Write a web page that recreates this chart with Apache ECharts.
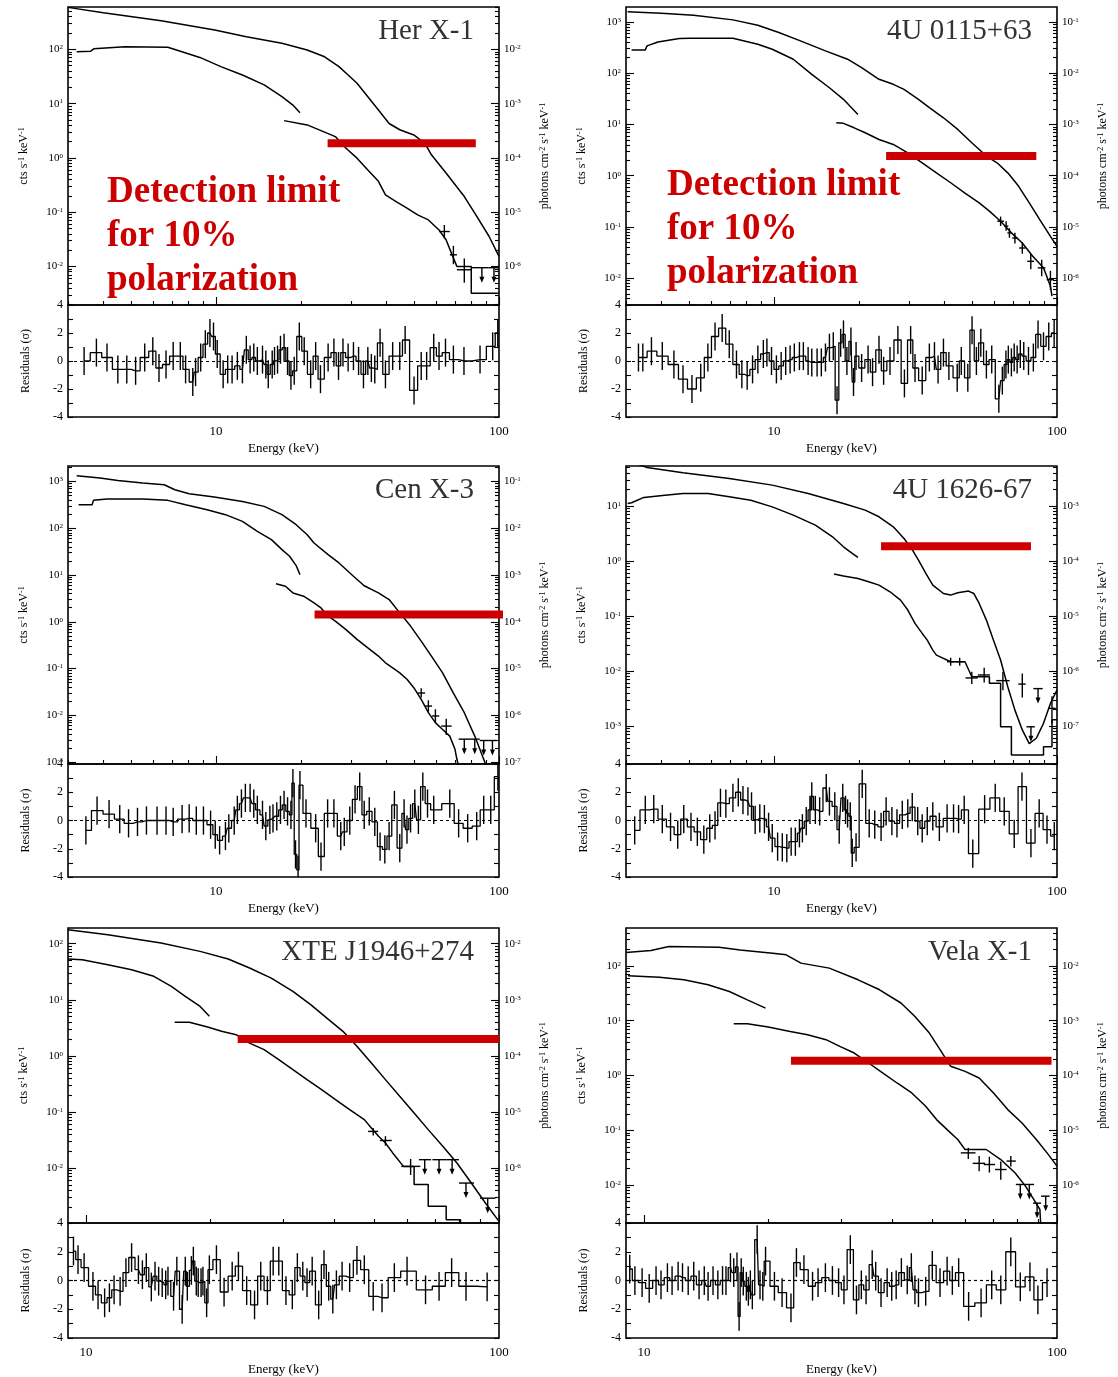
<!DOCTYPE html>
<html>
<head>
<meta charset="utf-8">
<script src="https://cdn.jsdelivr.net/npm/echarts@6/dist/echarts.min.js"></script>
<style>html,body{margin:0;background:#fff}#chart{width:1118px;height:1377px}</style>
</head>
<body>
<div id="chart"></div>
<script>
// ---- Her X-1 ----
var herModel = [[3.0,593],[4.0,473],[6.4,337],[9.9,227],[12.8,171],[17.1,129],[21.0,97],[24.2,73],[27.2,48],[29.3,33.7],[31.5,23.7],[34.4,13.4],[37.5,7.6],[40.9,4.3],[44.6,3.3],[50.0,2.65],[54.7,1.86],[57.7,1.14],[65.1,0.52],[75.4,0.194],[82.1,0.096],[92.2,0.036],[100,0.0153]];
var herLow = [[3.22,90],[3.6,92],[3.7,102],[4.77,112],[6.76,109],[8.77,71],[10.4,48],[12.4,33.7],[14.8,22.1],[17.1,13.4],[18.7,9.4],[19.8,6.8]];
var herHigh = [[17.4,4.86],[21.0,4.05],[23.5,3.18],[26.4,2.47],[28.8,1.51],[31.5,0.99],[34.4,0.60],[37.5,0.37],[39.7,0.208],[43.3,0.157],[47.3,0.119],[51.6,0.089],[56.3,0.072],[61.4,0.047],[65.0,0.031],[67.9,0.0176],[71,0.01],[79.8,0.01],[79.8,0.0032],[100,0.0032]];
var herErr = [[64.1,0.044,61.4,67.0,0.033,0.058],[69.0,0.0164,67.0,71.0,0.011,0.024],[75.4,0.0087,71.0,80.0,0.005,0.014]];
var herUL = [[87,0.0095,80,92],[96,0.0095,92,100]];
var herLimit = [[24.8,1.86],[82.8,1.86]];
var herRes = [[3.42,0],[3.78,0.6],[4.12,0.25],[4.50,-0.6],[4.84,-0.6],[5.20,-0.7],[5.60,0.25],[5.98,0.7],[6.29,-0.5],[6.66,-0.25],[7.06,0.35],[7.48,0.35],[7.81,-0.6],[8.28,-1.5],[8.47,-0.8],[8.83,0.25],[9.17,1.2],[9.52,2.0],[9.80,1.75],[10.1,0.5],[10.6,-0.95],[11.0,-0.6],[11.4,-0.6],[11.9,-0.35],[12.4,-0.6],[12.8,0.8],[13.2,0.1],[13.6,0.25],[14.0,0],[14.6,0.1],[15.0,-0.25],[15.3,-0.95],[15.8,-0.25],[16.1,0],[16.5,0.1],[16.9,0.8],[17.4,0.95],[17.9,0],[18.4,-1.05],[18.9,-0.7],[19.7,1.75],[20.5,0.7],[21.6,-0.95],[22.5,0.35],[23.4,-1.3],[24.9,0.25],[26.1,0.6],[27.1,-0.35],[28.1,0.6],[29.3,0.25],[30.6,0.35],[31.9,0],[33.2,-0.95],[34.4,0],[35.4,-0.5],[36.4,-0.6],[38.0,1.3],[39.7,-0.95],[42.1,0.35],[44.6,0.35],[46.6,1.5],[50.1,-2.1],[53.1,-0.35],[55.5,-0.35],[58.8,0.95],[61.4,0.35],[64.7,0.6],[69.0,0.1],[75.2,0],[85.7,0.1],[95,1.05],[99,2.0]];
var herY = [-2.71, 2.78];

// ---- 4U 0115+63 ----
var u0115Model = [[3.04,1567],[4.0,1475],[5.2,1349],[7.16,1094],[8.77,861],[10.4,619],[12.4,426],[15.2,272],[18.2,187],[20.4,128],[23.5,76],[26.4,60.6],[28.8,48.4],[32.4,30.9],[35.4,21.2],[39.7,13.5],[44.6,8.0],[50.0,4.4],[56.3,2.42],[61.4,1.79],[67.0,1.14],[73.1,0.63],[79.8,0.296],[86.9,0.14],[94.8,0.066],[100,0.042]];
var u0115Low = [[3.14,284],[3.51,284],[3.56,340],[3.89,406],[4.63,472],[5.06,480],[7.16,480],[8.77,366],[9.86,293],[11.7,187],[13.6,95],[15.7,52],[17.6,30.9],[19.8,15.7]];
var u0115High = [[16.6,10.8],[17.6,10.5],[19.2,8.6],[21.0,6.9],[23.5,5.1],[26.4,4.08],[29.7,2.8],[33.4,1.79],[37.5,1.14],[42.1,0.73],[47.3,0.46],[53.1,0.296],[57.7,0.204],[63.2,0.130],[69.0,0.077],[75.4,0.049],[82.1,0.027],[89.6,0.016],[94.8,0.0070],[96,0.0045]];
var u0115Err = [[63.2,0.13,61.5,65,0.105,0.16],[66.1,0.104,65,67.3,0.085,0.13],[67.9,0.077,66.8,69,0.062,0.095],[71.0,0.061,69.5,72.5,0.048,0.077],[75.4,0.039,73.5,77.5,0.030,0.051],[80.8,0.0215,78.5,83,0.015,0.03],[88.3,0.016,85.5,91,0.011,0.023],[94.8,0.0094,92,97.5,0.006,0.014]];
var u0115UL = [];
var u0115Limit = [[24.9,2.42],[84.5,2.42]];
var u0115Res = [[3.32,0.25],[3.44,0.25],[3.69,0.7],[4.03,0.35],[4.43,-0.25],[4.77,-1.3],[5.13,-2.0],[5.51,-1.2],[5.84,0.25],[6.19,1.75],[6.56,2.35],[6.95,1.2],[7.37,-0.25],[7.70,-0.95],[8.04,-1.05],[8.40,-0.6],[8.77,0.1],[9.17,0.5],[9.44,0.6],[9.80,0],[10.2,-0.6],[10.6,-0.35],[11.0,0],[11.4,0.1],[11.8,0.25],[12.3,0.35],[12.7,0.35],[13.2,0],[13.6,-0.1],[14.2,-0.1],[14.7,-0.1],[15.2,0.25],[15.7,0.95],[16.2,1.05],[16.7,-2.8],[17.2,1.3],[17.6,1.9],[18.1,0],[18.7,1.4],[19.1,-1.5],[19.5,0.35],[20.4,-0.5],[21.5,0.1],[22.3,-0.8],[23.5,0.8],[24.4,-0.7],[25.7,0],[27.4,1.5],[28.9,-1.6],[30.4,1.5],[31.5,-0.5],[33.4,-1.4],[35.4,0.25],[36.9,0.35],[38.0,-0.6],[39.7,0.6],[41.5,-0.35],[44.4,-1.2],[45.9,0],[48.4,-1.2],[50.1,2.2],[51.9,0],[53.8,1.3],[56.3,-0.25],[58.8,0.1],[62.3,-2.7],[64.1,-1.4],[66.0,-0.25],[67.3,0.1],[69.0,-0.1],[70.6,0.25],[72.3,0.1],[74.2,0.5],[76.3,0.35],[79.3,0],[82.5,0.25],[85.7,1.9],[89.6,1.05],[93.5,1.75],[97.7,2.0]];
var u0115Y = [-2.52, 3.29];

// ---- Cen X-3 ----
var cenModel = [[3.22,1321],[3.89,1178],[4.50,1050],[5.51,921],[6.56,849],[7.16,664],[8.04,546],[9.86,463],[12.4,374],[14.8,293],[17.1,195],[19.2,119],[21.0,72.7],[22.2,48.3],[24.9,27.2],[27.2,18.1],[30.6,9.4],[33.4,5.9],[37.5,4.14],[40.9,2.99],[44.6,1.55],[48.7,0.81],[53.1,0.386],[57.7,0.185],[63.2,0.081],[69.0,0.030],[75.4,0.0114],[82.1,0.0036],[88.3,0.00115],[92,0.0006]];
var cenLow = [[3.27,318],[3.65,318],[3.69,394],[4.12,420],[5.51,420],[6.76,394],[7.81,318],[9.3,248],[10.8,195],[12.4,140],[14.0,86],[15.7,57],[17.1,34.8],[18.2,25.1],[19.2,15.9],[19.8,10.2]];
var cenHigh = [[16.3,6.5],[17.6,5.75],[18.7,4.14],[20.4,3.52],[22.2,2.53],[23.5,1.98],[24.9,1.32],[26.4,1.03],[28.8,0.68],[31.5,0.42],[34.4,0.278],[37.5,0.185],[39.7,0.133],[42.1,0.104],[44.6,0.081],[47.3,0.059],[50.0,0.039],[53.1,0.022],[56.3,0.0114],[59.6,0.0070],[63.2,0.0050],[67.0,0.0036],[69.9,0.00188],[71.0,0.00115],[72,0.0008]];
var cenErr = [[53.1,0.030,51.5,54.8,0.024,0.038],[56.3,0.0158,54.8,58,0.012,0.021],[59.6,0.0097,58,61.5,0.0070,0.0135],[65.1,0.0059,62.5,68,0.0038,0.0085]];
var cenUL = [[75.4,0.0031,72,79],[82.1,0.0031,79,85.5],[88.3,0.0029,85.5,91.5],[94.8,0.0029,91.5,98]];
var cenLimit = [[22.3,1.43],[106,1.43]];
var cenRes = [[3.47,-0.7],[3.80,0.7],[4.19,0.45],[4.57,0.1],[4.91,-0.2],[5.28,-0.1],[5.68,0],[6.19,0],[6.66,0],[7.06,-0.1],[7.59,0.1],[8.04,0.15],[8.52,0],[9.03,0],[9.57,-0.3],[9.94,-1.0],[10.3,-1.4],[10.8,-1.1],[11.1,-0.55],[11.6,0],[11.9,0.75],[12.3,1.2],[12.7,1.6],[13.2,1.6],[13.6,1.2],[14.0,0.75],[14.6,0.4],[15.0,-0.4],[15.5,0.05],[15.9,0.15],[16.4,0.3],[16.9,0.75],[17.4,1.1],[17.9,0.65],[18.4,0.4],[18.7,2.65],[19.1,-2.4],[19.5,-3.5],[19.8,2.5],[20.8,0.5],[22.5,-0.55],[23.5,-2.55],[24.8,0.5],[26.1,0.5],[27.6,-1.1],[28.4,-0.8],[29.7,0],[31.0,1.5],[32.2,2.4],[33.4,0.4],[34.8,0.65],[36.4,-0.1],[38.0,-1.85],[39.5,-2.05],[40.9,-1.1],[42.7,1.1],[44.6,-1.95],[46.2,0.5],[47.3,-0.65],[48.7,0.15],[50.4,1.2],[51.9,0.05],[53.8,2.4],[55.9,1.2],[58.8,0.75],[67.0,1.2],[72.0,-0.2],[77.5,-0.55],[83.4,-0.4],[88.3,0.75],[93.5,0.75],[99.1,3.1]];
var cenY = [-3.04, 3.33];

// ---- 4U 1626-67 ----
var u1626Model = [[3.0,70],[3.56,50.5],[4.77,40.4],[6.95,31.8],[9.86,24.1],[13.2,17.0],[17.6,11.2],[21.0,8.45],[23.5,6.4],[26.4,4.21],[28.8,2.58],[30.6,1.70],[32.4,1.04],[34.4,0.597],[36.4,0.366],[39.7,0.258],[42.1,0.241],[44.6,0.266],[48.7,0.285],[50.8,0.258],[53.1,0.170],[56.3,0.0846],[59.6,0.0366],[63.2,0.0159],[67.0,0.0052],[71.0,0.00195],[75.4,0.00085],[79.8,0.00048],[84.5,0.00060],[89.6,0.00112],[94.8,0.00258],[100,0.00452]];
var u1626Low = [[3.04,11.2],[3.14,11.5],[3.47,14.4],[4.12,15.8],[4.77,17.0],[5.85,17.0],[6.95,14.8],[8.28,12.8],[9.86,9.7],[11.7,6.85],[14.0,4.52],[16.1,2.77],[17.6,1.82],[18.9,1.38],[19.8,1.17]];
var u1626High = [[16.3,0.581],[17.6,0.534],[19.8,0.484],[21.6,0.421],[23.5,0.366],[25.7,0.277],[28.0,0.195],[29.7,0.129],[31.5,0.0736],[33.4,0.0484],[34.8,0.0366],[36.4,0.0241],[37.5,0.0195],[42.1,0.0148],[47.3,0.0148],[50.0,0.0079],[57.7,0.0079],[57.7,0.0060],[63.2,0.0060],[63.2,0.00097],[69.0,0.00097],[69.0,0.000297],[89.6,0.000297],[89.6,0.00042],[96,0.00042],[96,0.0013],[100,0.0013]];
var u1626Err = [[42.1,0.0148,40.9,43.4,0.0125,0.0175],[45.3,0.0148,43.8,46.8,0.0125,0.0175],[50.0,0.0075,47.5,52.5,0.0058,0.0097],[55.3,0.0085,52.5,58,0.0062,0.0115],[64.4,0.0067,61,68,0.0045,0.0097],[75.4,0.0058,73,77.5,0.0033,0.009],[96,0.0021,93,99,0.0011,0.0035]];
var u1626UL = [[85.7,0.0048,82.5,89],[80.9,0.00097,78,83.5]];
var u1626Limit = [[23.9,1.87],[80.9,1.87]];
var u1626Res = [[3.22,-0.7],[3.51,0.75],[3.76,0.8],[4.03,0.1],[4.31,-0.45],[4.57,-1.0],[4.80,0.1],[5.09,-0.45],[5.36,-0.8],[5.65,-1.35],[5.93,-0.55],[6.19,-0.35],[6.47,1.25],[6.76,1.2],[7.16,1.6],[7.48,2.0],[7.77,1.45],[8.09,1.35],[8.33,1.0],[8.58,0.05],[8.91,0.15],[9.25,0.1],[9.57,-0.45],[9.86,-1.25],[10.3,-1.85],[10.7,-1.9],[11.1,-1.95],[11.5,-1.5],[11.9,-1.5],[12.3,-0.9],[12.6,-0.55],[13.0,-0.05],[13.4,0.75],[13.6,1.7],[14.0,0.75],[14.5,0.65],[15.3,2.3],[15.7,1.35],[16.4,1.0],[17.0,-0.65],[17.5,1.6],[17.9,0.75],[18.2,0.5],[18.6,0.3],[18.9,-2.3],[19.5,-1.9],[20.5,2.6],[21.7,-0.2],[22.7,-0.3],[23.9,-0.45],[24.9,0.65],[26.1,-0.05],[27.2,-0.2],[28.4,0.4],[29.7,0.5],[30.8,0.95],[32.2,-0.05],[33.4,-0.55],[34.8,-0.05],[36.4,0.3],[38.4,-0.45],[40.9,0.15],[43.1,0.15],[44.9,0.1],[47.0,0.75],[50.4,-2.35],[55.5,0.8],[60.5,1.6],[65.1,0.65],[70.6,-0.95],[75.2,2.4],[80.9,-1.6],[86.5,0.5],[92.2,-0.65],[97.8,-1.1]];
var u1626Y = [-3.69, 1.73];

// ---- XTE J1946+274 ----
var xteModel = [[9.05,178],[11.3,144],[15.2,103],[18.9,73],[22.1,53.3],[24.9,36.8],[28.1,24.4],[31.7,14.1],[35.0,8.2],[38.7,4.42],[41.9,2.74],[45.3,1.48],[49.1,0.746],[53.1,0.377],[57.5,0.190],[62.3,0.096],[67.4,0.0484],[73.1,0.0244],[79.1,0.0123],[85.7,0.0054],[92.7,0.00238],[100,0.00112]];
var xteLow = [[9.05,53.3],[9.8,51.9],[11.3,42.3],[12.9,34.4],[14.6,26.2],[16.1,17.4],[17.4,11.5],[18.9,7.6],[19.9,5.07]];
var xteHigh = [[16.4,3.96],[17.8,3.96],[19.7,3.27],[21.3,2.74],[23.1,2.39],[24.9,1.69],[27.0,1.29],[29.3,0.855],[31.7,0.567],[34.3,0.377],[37.2,0.250],[40.2,0.166],[43.5,0.110],[47.2,0.073],[49.1,0.0518],[51.1,0.0368],[53.1,0.0280],[55.3,0.0186],[58.7,0.0107],[62.3,0.0107],[62.3,0.0051],[67.4,0.0051],[67.4,0.00208],[74.5,0.00208],[74.5,0.0012],[80.7,0.0012],[80.7,0.0009]];
var xteErr = [[49.6,0.045,48.2,51,0.038,0.052],[53.1,0.031,51.5,55,0.025,0.037],[61.1,0.0107,58,64.5,0.0075,0.0145]];
var xteUL = [[66.1,0.0141,64,68.5],[71.6,0.0141,69,74.5],[77.0,0.0141,74.5,80],[83.2,0.0054,80,87],[93.9,0.0029,90,98]];
var xteLimit = [[23.3,2.0],[100,2.0]];
var xteRes = [[9.33,2.05],[9.57,1.45],[9.90,0.9],[10.4,-0.4],[10.7,-1.0],[11.1,-1.55],[11.4,-1.2],[11.7,-0.65],[12.1,-0.75],[12.5,0.55],[12.9,1.6],[13.4,0.75],[13.7,0.4],[14.0,0.9],[14.4,-0.45],[14.7,0.3],[15.0,-0.05],[15.3,-0.15],[15.6,-0.3],[15.8,-0.05],[16.3,-1.1],[16.6,0.65],[17.1,-2.0],[17.4,0.65],[17.6,-0.4],[18.0,0.7],[18.2,1.35],[18.5,-0.05],[18.7,-0.15],[19.0,-0.15],[19.2,-0.05],[19.6,-1.55],[19.9,0.75],[20.7,1.45],[21.6,-0.8],[22.6,0.3],[23.4,1.0],[24.5,-0.7],[25.6,-1.7],[26.5,0.3],[27.5,-0.7],[28.4,1.35],[29.3,1.35],[30.5,-0.7],[31.6,-1.0],[32.5,0.9],[33.5,0.3],[34.3,-0.15],[35.3,0.65],[36.6,-1.7],[37.7,1.1],[38.7,-0.4],[39.6,-1.3],[40.4,-0.3],[41.7,0.3],[43.5,0.2],[45.3,1.4],[47.2,0.75],[49.6,-1.1],[52.1,-1.2],[55.8,0.2],[59.9,0.65],[66.4,-0.65],[71.6,-0.4],[76.8,0.55],[83.2,-0.4],[93.6,-0.45]];
var xteY = [-2.98, 2.28];

// ---- Vela X-1 ----
var velaModel = [[9.05,175],[10.4,190],[11.5,225],[15.2,219],[17.1,195],[20.5,170],[22.1,159],[24.0,112],[28.1,90.8],[33.0,55.6],[37.2,36.6],[41.9,21.0],[45.3,11.9],[49.1,5.95],[52.1,2.96],[55.3,1.47],[59.9,1.19],[64.8,0.90],[70.2,0.48],[76.0,0.239],[82.3,0.136],[89.1,0.068],[94.6,0.0388],[100,0.0222]];
var velaLow = [[9.15,65.8],[10.9,62.2],[12.5,55.6],[14.3,45.1],[16.1,34.1],[17.8,24.0],[19.7,16.9]];
var velaHigh = [[16.5,8.8],[17.8,8.8],[20.0,7.64],[22.6,6.37],[24.9,5.54],[27.6,4.50],[29.8,3.40],[32.3,2.57],[35.0,1.69],[37.9,1.11],[41.0,0.73],[44.5,0.48],[48.1,0.275],[51.1,0.157],[54.2,0.103],[57.5,0.068],[59.9,0.0447],[67.4,0.0447],[73.1,0.0293],[79.1,0.0168],[83.9,0.0096],[87.3,0.0059],[90.9,0.0036],[91.5,0.0015]];
var velaErr = [[61.0,0.0388,58.5,63.5,0.030,0.048],[64.8,0.025,62.5,67,0.018,0.034],[68.6,0.0238,66.5,70.8,0.017,0.033],[73.1,0.0193,70.8,75.5,0.0125,0.027],[77.3,0.0275,75.5,79.5,0.022,0.034]];
var velaUL = [[81.5,0.0103,79.5,83.5],[85.7,0.0103,83.5,88],[89.5,0.0047,87.5,91.5],[93.9,0.0063,91.5,96]];
var velaLimit = [[22.7,1.86],[97,1.86]];
var velaRes = [[9.24,0.8],[9.51,0],[9.90,-0.15],[10.3,-0.55],[10.7,0],[11.0,-0.3],[11.4,0.2],[11.7,0],[12.1,0.3],[12.4,0.2],[12.8,0],[13.2,0.3],[13.6,-0.3],[14.0,0],[14.3,-0.4],[14.7,0],[15.1,-0.3],[15.5,0],[15.8,0],[16.2,0.9],[16.5,0.55],[16.8,0.95],[17.0,-2.5],[17.2,0.55],[17.4,-0.05],[17.7,-0.4],[17.9,-0.75],[18.1,-0.3],[18.3,-1.0],[18.8,2.85],[19.1,-0.3],[19.4,-0.4],[19.7,1.35],[20.7,-0.4],[21.6,-0.85],[22.7,-1.9],[23.4,1.25],[24.4,0.75],[25.6,-0.4],[26.4,-0.15],[27.5,0.2],[28.6,0],[29.6,-0.15],[30.5,-0.65],[31.6,2.15],[32.7,-1.35],[33.6,-0.3],[34.5,-0.65],[35.7,1.1],[36.4,0.3],[37.5,-0.85],[38.8,-0.15],[39.8,-0.4],[40.8,-0.3],[42.0,0.55],[43.4,0.05],[44.4,0.9],[45.3,-0.65],[46.2,-0.85],[48.1,-0.75],[49.9,1.05],[52.1,-0.15],[54.2,0.65],[55.8,0],[57.8,0.55],[61.1,-1.8],[65.5,-1.55],[69.5,-0.3],[73.1,-0.65],[77.3,2.0],[81.5,-0.45],[86.0,0.25],[89.9,-1.35],[94.6,-0.15]];
var velaY = [-2.69, 2.69];

var xMajor = [10, 100];
var xMinor = [2, 3, 4, 5, 6, 7, 8, 9, 20, 30, 40, 50, 60, 70, 80, 90];

var SERIF = '"Liberation Serif", "Times New Roman", serif';

var panels = [
  { name: 'Her X-1', model: herModel, low: herLow, high: herHigh, err: herErr, ul: herUL, limit: herLimit, res: herRes, y: herY, xMin: 3.0, row: 0, col: 0, note: true },
  { name: '4U 0115+63', model: u0115Model, low: u0115Low, high: u0115High, err: u0115Err, ul: u0115UL, limit: u0115Limit, res: u0115Res, y: u0115Y, xMin: 3.0, row: 0, col: 1, note: true },
  { name: 'Cen X-3', model: cenModel, low: cenLow, high: cenHigh, err: cenErr, ul: cenUL, limit: cenLimit, res: cenRes, y: cenY, xMin: 3.0, row: 1, col: 0 },
  { name: '4U 1626-67', model: u1626Model, low: u1626Low, high: u1626High, err: u1626Err, ul: u1626UL, limit: u1626Limit, res: u1626Res, y: u1626Y, xMin: 3.0, row: 1, col: 1 },
  { name: 'XTE J1946+274', model: xteModel, low: xteLow, high: xteHigh, err: xteErr, ul: xteUL, limit: xteLimit, res: xteRes, y: xteY, xMin: 9.05, row: 2, col: 0 },
  { name: 'Vela X-1', model: velaModel, low: velaLow, high: velaHigh, err: velaErr, ul: velaUL, limit: velaLimit, res: velaRes, y: velaY, xMin: 9.05, row: 2, col: 1 }
];

// layout of the 3x2 figure
var colLeft = [68, 626];
var colW = 431;
var rows = [
  { top: 7, h: 298, rTop: 305, rH: 112 },
  { top: 466, h: 298, rTop: 764, rH: 113 },
  { top: 928, h: 295, rTop: 1223, rH: 115 }
];

function pow10(e) { return Math.pow(10, e); }
function decadeVals(r) {
  var out = [];
  for (var e = Math.ceil(r[0]); e <= Math.floor(r[1]); e++) out.push(pow10(e));
  return out;
}
function minorVals(r) {
  var out = [];
  for (var e = Math.floor(r[0]); e <= Math.floor(r[1]); e++) {
    for (var k = 2; k <= 9; k++) {
      var v = k * pow10(e);
      var l = Math.log10(v);
      if (l > r[0] && l < r[1]) out.push(v);
    }
  }
  return out;
}

var supRich = {
  b: { fontFamily: SERIF, fontSize: 11, color: '#000' },
  s: { fontFamily: SERIF, fontSize: 7, color: '#000', verticalAlign: 'top' }
};
var nameRich = {
  n: { fontFamily: SERIF, fontSize: 12, color: '#000' },
  s: { fontFamily: SERIF, fontSize: 8, color: '#000', verticalAlign: 'top' }
};
function powLabel(v) {
  var e = Math.round(Math.log10(v));
  return '{b|10}{s|' + e + '}';
}

var tickStyle = { color: '#000', width: 1.1 };

function logY(grid, range, pos, major, withLabels, name, gap) {
  var vals = major ? decadeVals(range) : minorVals(range);
  var ax = {
    type: 'log', gridIndex: grid, position: pos,
    min: pow10(range[0]), max: pow10(range[1]),
    axisLine: { show: false }, splitLine: { show: false },
    axisTick: { show: true, inside: true, length: major ? 8 : 4, customValues: vals, lineStyle: tickStyle },
    axisLabel: { show: false }
  };
  if (withLabels) {
    ax.axisLabel = { show: true, customValues: vals, formatter: powLabel, rich: supRich, margin: 5 };
    ax.name = name;
    ax.nameLocation = 'middle';
    ax.nameGap = gap;
    ax.nameRotate = 90;
    ax.nameTextStyle = { fontFamily: SERIF, fontSize: 12, color: '#000', rich: nameRich };
  }
  return ax;
}

var grids = [], xAxes = [], yAxes = [], series = [], graphics = [];

function renderCross(params, api) {
  var v = api.value(1), e = api.value(0);
  var a = api.coord([api.value(2), v]), b = api.coord([api.value(3), v]);
  var c = api.coord([e, api.value(4)]), d = api.coord([e, api.value(5)]);
  return { type: 'group', children: [
    { type: 'line', shape: { x1: a[0], y1: a[1], x2: b[0], y2: b[1] }, style: { stroke: '#000', lineWidth: 1.4 } },
    { type: 'line', shape: { x1: c[0], y1: c[1], x2: d[0], y2: d[1] }, style: { stroke: '#000', lineWidth: 1.4 } }
  ] };
}
function renderLimit(params, api) {
  var v = api.value(1);
  var a = api.coord([api.value(2), v]), b = api.coord([api.value(3), v]);
  var c = api.coord([api.value(0), v]);
  return { type: 'group', children: [
    { type: 'line', shape: { x1: a[0], y1: a[1], x2: b[0], y2: b[1] }, style: { stroke: '#000', lineWidth: 1.4 } },
    { type: 'line', shape: { x1: c[0], y1: c[1], x2: c[0], y2: c[1] + 12 }, style: { stroke: '#000', lineWidth: 1.4 } },
    { type: 'polygon', shape: { points: [[c[0] - 2.5, c[1] + 9], [c[0] + 2.5, c[1] + 9], [c[0], c[1] + 15]] }, style: { fill: '#000' } }
  ] };
}
function renderResBar(params, api) {
  var e = api.value(0), r = api.value(1);
  var a = api.coord([e, r - 1]), b = api.coord([e, r + 1]);
  return { type: 'line', shape: { x1: a[0], y1: a[1], x2: b[0], y2: b[1] }, style: { stroke: '#000', lineWidth: 1.4 } };
}

panels.forEach(function (p, i) {
  var L = colLeft[p.col], R = rows[p.row];
  var gs = 2 * i, gr = 2 * i + 1;
  grids.push({ left: L, top: R.top, width: colW, height: R.h, show: true, borderColor: '#000', borderWidth: 1.6, backgroundColor: 'transparent' });
  grids.push({ left: L, top: R.rTop, width: colW, height: R.rH, show: true, borderColor: '#000', borderWidth: 1.6, backgroundColor: 'transparent' });

  var xBase = { type: 'log', min: p.xMin, max: 100, axisLine: { show: false }, splitLine: { show: false }, axisLabel: { show: false } };
  xAxes.push(Object.assign({}, xBase, { gridIndex: gs, position: 'bottom',
    axisTick: { show: true, inside: true, length: 8, customValues: xMajor, lineStyle: tickStyle } }));
  xAxes.push(Object.assign({}, xBase, { gridIndex: gs, position: 'bottom',
    axisTick: { show: true, inside: true, length: 4, customValues: xMinor, lineStyle: tickStyle } }));
  xAxes.push(Object.assign({}, xBase, { gridIndex: gr, position: 'bottom',
    axisTick: { show: false },
    axisLabel: { show: true, customValues: xMajor, formatter: function (v) { return String(Math.round(v)); },
      fontFamily: SERIF, fontSize: 13, color: '#000', margin: 8 },
    name: 'Energy (keV)', nameLocation: 'middle', nameGap: 25,
    nameTextStyle: { fontFamily: SERIF, fontSize: 13, color: '#000' } }));

  var rightRange = [p.y[0] - 4, p.y[1] - 4];
  yAxes.push(logY(gs, p.y, 'left', true, true, '{n|cts s}{s|-1}{n| keV}{s|-1}', 38));
  yAxes.push(logY(gs, p.y, 'left', false, false));
  yAxes.push(logY(gs, rightRange, 'right', true, true, '{n|photons cm}{s|-2}{n| s}{s|-1}{n| keV}{s|-1}', 40));
  yAxes.push(logY(gs, rightRange, 'right', false, false));
  yAxes.push({ type: 'value', gridIndex: gr, position: 'left', min: -4, max: 4, interval: 1,
    axisLine: { show: false }, splitLine: { show: false },
    axisTick: { show: true, inside: true, length: 5, lineStyle: tickStyle },
    axisLabel: { show: true, margin: 5, fontFamily: SERIF, fontSize: 12, color: '#000',
      formatter: function (v) { return v % 2 === 0 ? String(v) : ''; } },
    name: 'Residuals (\u03c3)', nameLocation: 'middle', nameGap: 36, nameRotate: 90,
    nameTextStyle: { fontFamily: SERIF, fontSize: 12, color: '#000' } });
  yAxes.push({ type: 'value', gridIndex: gr, position: 'right', min: -4, max: 4, interval: 1,
    axisLine: { show: false }, splitLine: { show: false },
    axisTick: { show: true, inside: true, length: 5, lineStyle: tickStyle },
    axisLabel: { show: false } });

  var xs = 3 * i, xr = 3 * i + 2, ys = 6 * i, yr = 6 * i + 4;
  [p.model, p.low, p.high].forEach(function (d) {
    series.push({ type: 'line', xAxisIndex: xs, yAxisIndex: ys, data: d, symbol: 'none',
      lineStyle: { color: '#000', width: 1.5 }, z: 3 });
  });
  if (p.err.length) series.push({ type: 'custom', xAxisIndex: xs, yAxisIndex: ys, data: p.err, renderItem: renderCross, z: 3 });
  if (p.ul.length) series.push({ type: 'custom', xAxisIndex: xs, yAxisIndex: ys, data: p.ul, renderItem: renderLimit, z: 3 });
  series.push({ type: 'line', xAxisIndex: xs, yAxisIndex: ys, data: p.limit, symbol: 'none', clip: false,
    lineStyle: { color: '#cc0000', width: 8, cap: 'butt' }, z: 6 });

  series.push({ type: 'line', xAxisIndex: xr, yAxisIndex: yr, data: p.res, step: 'middle', symbol: 'none',
    lineStyle: { color: '#000', width: 1.3 }, z: 3,
    markLine: { silent: true, symbol: ['none', 'none'], label: { show: false },
      lineStyle: { color: '#000', type: [3, 3], width: 1.2 }, data: [{ yAxis: 0 }] } });
  series.push({ type: 'custom', xAxisIndex: xr, yAxisIndex: yr, data: p.res, renderItem: renderResBar, clip: true, z: 3 });

  // source name
  graphics.push({ type: 'text', x: L + colW - 25, y: R.top + 24, z: 10,
    style: { text: p.name, font: '29px ' + SERIF, fill: '#333', textAlign: 'right', align: 'right', textVerticalAlign: 'middle', verticalAlign: 'middle' } });
  if (p.note) {
    var lines = ['Detection limit', 'for 10%', 'polarization'];
    var ty = p.col === 0 ? 192 : 185;
    lines.forEach(function (t, k) {
      graphics.push({ type: 'text', x: L + 39 + p.col * 2, y: ty + k * 44, z: 10,
        style: { text: t, font: 'bold 37px ' + SERIF, fill: '#cc0000', textAlign: 'left', align: 'left', textVerticalAlign: 'middle', verticalAlign: 'middle' } });
    });
  }
});

var chart = echarts.init(document.getElementById('chart'), null, { renderer: 'canvas' });
chart.setOption({
  animation: false,
  backgroundColor: '#fff',
  grid: grids,
  xAxis: xAxes,
  yAxis: yAxes,
  series: series,
  graphic: graphics
});
</script>
</body>
</html>
